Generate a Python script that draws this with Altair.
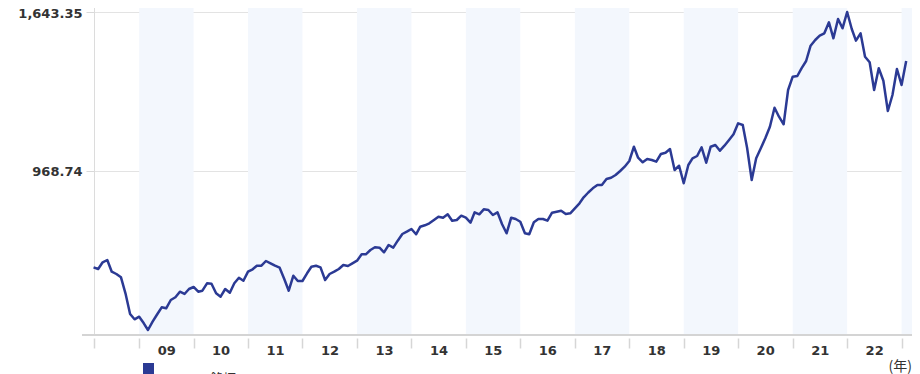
import altair as alt
import pandas as pd

# ---- data (monthly) ----
start_month = "2008-03-01"
values = [
    560.1, 552.9, 581.4, 591.1, 541.5, 531.7, 517.7, 449.8, 362.0, 339.5,                  # 2008 Mar-Dec
    350.5, 322.5, 294.13, 329.3, 359.9, 390.4, 386.2, 421.4, 432.9, 456.6, 446.9, 468.1,    # 2009
    476.6, 456.6, 460.9, 492.3, 490.6, 449.8, 435.4, 468.1, 452.4, 492.3, 516.0, 503.3,     # 2010
    541.5, 551.7, 566.9, 566.9, 586.9, 577.1, 566.9, 558.5, 510.5, 460.9, 524.5, 502.0,     # 2011
    502.0, 534.7, 562.7, 566.9, 560.1, 506.3, 531.7, 541.5, 552.9, 569.9, 565.7, 577.1,     # 2012
    588.1, 615.3, 615.3, 633.5, 645.0, 643.3, 623.8, 654.8, 643.3, 673.0, 701.4, 711.2,     # 2013
    722.7, 700.2, 732.4, 738.3, 746.8, 760.8, 774.8, 770.6, 785.0, 757.9, 760.8, 779.1,     # 2014
    770.6, 749.4, 793.5, 785.0, 806.2, 803.3, 782.1, 793.5, 742.6, 704.4, 770.6, 765.1,     # 2015
    753.6, 704.4, 700.2, 751.1, 765.1, 765.1, 757.9, 791.8, 796.1, 800.3, 786.3, 789.3,     # 2016
    810.5, 831.7, 857.2, 877.5, 895.3, 909.3, 909.3, 934.8, 940.3, 951.8, 968.7, 987.0,     # 2017
    1011.2, 1071.8, 1025.2, 1005.7, 1019.7, 1015.4, 1008.2, 1040.9, 1046.4, 1062.1, 973.0, 991.2,   # 2018
    916.6, 994.2, 1022.6, 1032.4, 1069.3, 1004.0, 1071.8, 1079.1, 1054.9, 1076.1, 1100.3, 1124.5,   # 2019
    1171.1, 1163.9, 1067.6, 930.6, 1022.6, 1065.1, 1107.5, 1156.7, 1237.3, 1199.1, 1166.9, 1312.4,  # 2020
    1368.9, 1371.8, 1404.5, 1435.5, 1500.4, 1524.6, 1542.8, 1553.0, 1599.7, 1531.8, 1613.7, 1574.2, # 2021
    1643.35, 1571.3, 1521.6, 1553.0, 1453.7, 1430.0, 1312.4, 1404.5, 1351.9, 1223.3, 1291.2, 1401.5,# 2022
    1333.6, 1435.5,                                                                          # 2023
]
shade_years = [2009, 2011, 2013, 2015, 2017, 2019, 2021, 2023]
tick_years = list(range(2009, 2024))
y_ticks = [968.74, 1643.35]
series_name = "銘柄"
unit_label = "(年)"

dates = pd.date_range(start_month, periods=len(values), freq="MS")
df = pd.DataFrame({"date": dates, "value": values})
shade = pd.DataFrame({
    "start": pd.to_datetime([f"{y}-01-01" for y in shade_years]),
    "end": pd.to_datetime([f"{y + 1}-01-01" for y in shade_years]),
})
one = pd.DataFrame({"k": [0]})

W, H = 818, 331
LINE_COLOR = "#2b3a94"
TEXT_COLOR = "#333333"
NUM_FONT = "DejaVu Sans"

x_scale = alt.Scale(domain=[alt.DateTime(year=2008, month=3, date=4),
                            alt.DateTime(year=2023, month=3, date=12)])
y_scale = alt.Scale(domain=[272.9, 1677.3], zero=False, nice=False)

x_axis = alt.Axis(
    values=[alt.DateTime(year=2008, month=3, date=4)] +
           [alt.DateTime(year=y, month=1, date=1) for y in tick_years],
    labelExpr="(year(datum.value) >= 2009 && year(datum.value) <= 2022 && month(datum.value) == 0) ? timeFormat(datum.value, '%y') : ''",
    labelOffset=27, labelAlign="center", labelBaseline="alphabetic", labelPadding=6,
    tickSize=10, tickColor="#d6d6d6", tickWidth=1.5, offset=3,
    domain=False, grid=False, title=None,
    labelFont=NUM_FONT, labelFontWeight="bold", labelFontSize=13, labelColor=TEXT_COLOR,
    labelOverlap=False, labelFlush=False, labelBound=False,
)
y_axis = alt.Axis(
    values=y_ticks, format=",.2f", grid=True, gridColor="#e3e3e3",
    tickColor="#d9d9d9", tickSize=8, domain=False, labelPadding=4, labelOffset=1, title=None,
    labelFont=NUM_FONT, labelFontWeight="bold", labelFontSize=13, labelColor=TEXT_COLOR,
)

bands = alt.Chart(shade).mark_rect(color="#f3f7fd", clip=True).encode(
    x=alt.X("start:T", scale=x_scale, axis=x_axis),
    x2="end:T",
)

line = alt.Chart(df).mark_line(color=LINE_COLOR, strokeWidth=2.5, strokeJoin="round").encode(
    x=alt.X("date:T", scale=x_scale, axis=x_axis),
    y=alt.Y("value:Q", scale=y_scale, axis=y_axis),
)

base_rule = alt.Chart(one).mark_rule(color="#d4d4d4", strokeWidth=2).encode(
    x=alt.value(-12), x2=alt.value(W), y=alt.value(H),
)

legend_box = alt.Chart(one).mark_rect(color=LINE_COLOR).encode(
    x=alt.value(49), x2=alt.value(60), y=alt.value(359), y2=alt.value(372),
)
legend_text = alt.Chart(one).mark_text(
    text=series_name, align="left", baseline="alphabetic", fontSize=13,
    font="Noto Sans CJK JP", color=TEXT_COLOR,
).encode(x=alt.value(116), y=alt.value(379))

unit_text = alt.Chart(one).mark_text(
    text=unit_label, align="right", baseline="alphabetic", fontSize=14,
    font="Noto Sans CJK JP", color=TEXT_COLOR,
).encode(x=alt.value(W), y=alt.value(367))

chart = alt.layer(bands, line, base_rule, legend_box, legend_text, unit_text).properties(
    width=W, height=H,
    padding={"left": 86, "top": -4, "right": 0, "bottom": 39},
    autosize=alt.AutoSizeParams(type="none"),
    background="white",
).configure_view(stroke="#dcdcdc", strokeWidth=1)

chart.save("out.html", embed_options={"renderer": "svg", "actions": False})
